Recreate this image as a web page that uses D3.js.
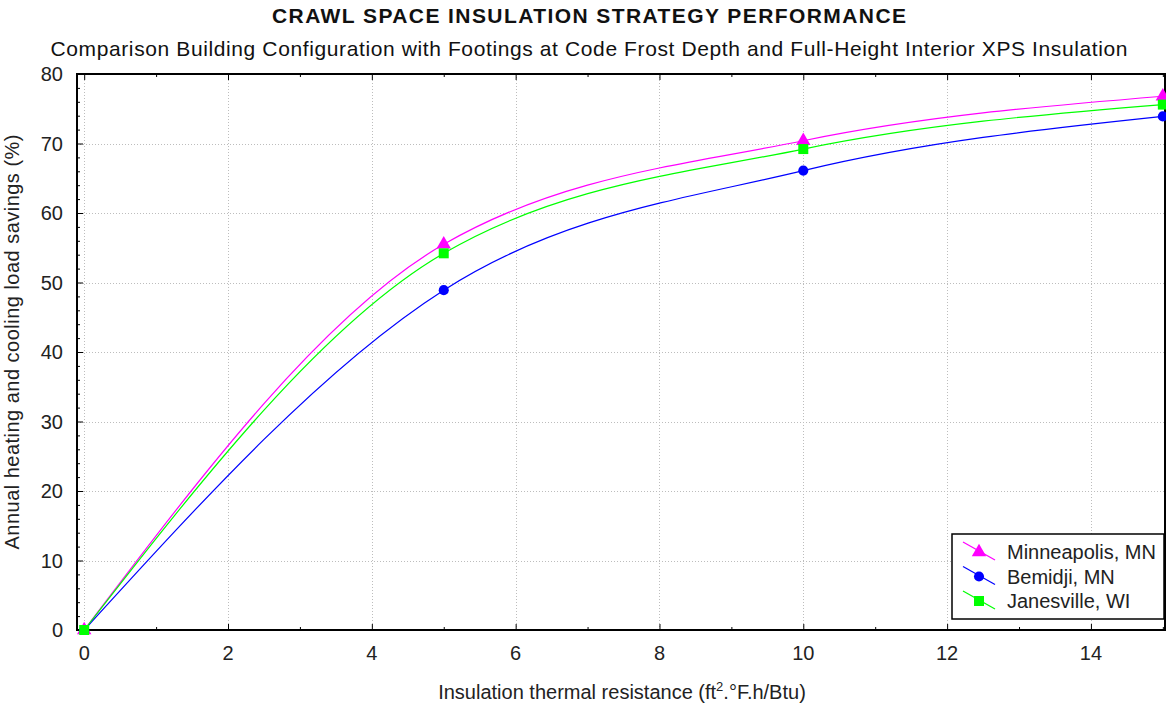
<!DOCTYPE html>
<html>
<head>
<meta charset="utf-8">
<script src="https://cdn.jsdelivr.net/npm/d3@7"></script>
<style>
  body { margin: 0; background: #fff; }
  svg { display: block; font-family: "Liberation Sans", Arial, sans-serif; }
</style>
</head>
<body>
<svg id="chart" width="1166" height="707"></svg>
<script>
// data
var resistance = [0, 5, 10, 15];
var minneapolis = [0, 55.5, 70.4, 76.8];
var bemidji = [0, 48.9, 66.1, 73.9];
var janesville = [0, 54.2, 69.2, 75.6];
var seriesNames = ['Minneapolis, MN', 'Bemidji, MN', 'Janesville, WI'];
var xTicks = [0, 2, 4, 6, 8, 10, 12, 14];
var yTicks = [0, 10, 20, 30, 40, 50, 60, 70, 80];

var title = 'CRAWL SPACE INSULATION STRATEGY PERFORMANCE';
var subtitle = 'Comparison Building Configuration with Footings at Code Frost Depth and Full-Height Interior XPS Insulation';

var series = [
  {name: seriesNames[0], values: minneapolis, color: '#ff00ff', marker: d3.symbolTriangle, size: 90},
  {name: seriesNames[1], values: bemidji, color: '#0000ff', marker: d3.symbolCircle, size: 80},
  {name: seriesNames[2], values: janesville, color: '#00ff00', marker: d3.symbolSquare, size: 100}
];

var svg = d3.select('#chart');
var plotL = 77, plotR = 1165, plotT = 74, plotB = 630;

var x = d3.scaleLinear().domain([-0.1, 15.03]).range([plotL, plotR]);
var y = d3.scaleLinear().domain([0, 80]).range([plotB, plotT]);

// titles
svg.append('text').attr('x', 589).attr('y', 23).attr('text-anchor', 'middle')
  .attr('font-size', 21).attr('font-weight', 'bold').attr('fill', '#111')
  .attr('textLength', 634).text(title);
svg.append('text').attr('x', 589).attr('y', 56).attr('text-anchor', 'middle')
  .attr('font-size', 21).attr('fill', '#111')
  .attr('textLength', 1077).text(subtitle);

// grid
var grid = svg.append('g').attr('stroke', '#bdbdbd').attr('stroke-width', 1).attr('stroke-dasharray', '1,2');
grid.selectAll('line.v').data(xTicks).enter().append('line')
  .attr('x1', function(d) { return Math.round(x(d)) + 0.5; })
  .attr('x2', function(d) { return Math.round(x(d)) + 0.5; })
  .attr('y1', plotT).attr('y2', plotB);
grid.selectAll('line.h').data(yTicks.slice(1, -1)).enter().append('line')
  .attr('y1', function(d) { return Math.round(y(d)) + 0.5; })
  .attr('y2', function(d) { return Math.round(y(d)) + 0.5; })
  .attr('x1', plotL).attr('x2', plotR);

// axes (ticks inward, minor ticks in between)
var xMinor = d3.range(0, 16, 1);
var yMinor = d3.range(0, 81, 2);
function tickLen(d, majors) { return majors.indexOf(d) >= 0 ? 6 : 3; }

var axBottom = d3.axisBottom(x).tickValues(xMinor).tickSizeInner(0).tickSizeOuter(0).tickFormat('');
var axTop = d3.axisTop(x).tickValues(xMinor).tickSizeInner(0).tickSizeOuter(0).tickFormat('');
var axLeft = d3.axisLeft(y).tickValues(yMinor).tickSizeInner(0).tickSizeOuter(0).tickFormat('');

var gb = svg.append('g').attr('transform', 'translate(0,' + plotB + ')').call(axBottom);
gb.selectAll('.tick line').attr('y2', function(d) { return -tickLen(d, xTicks); }).attr('stroke', '#000');
var gt = svg.append('g').attr('transform', 'translate(0,' + plotT + ')').call(axTop);
gt.selectAll('.tick line').attr('y2', function(d) { return tickLen(d, xTicks); }).attr('stroke', '#000');
var gl = svg.append('g').attr('transform', 'translate(' + plotL + ',0)').call(axLeft);
gl.selectAll('.tick line').attr('x2', function(d) { return tickLen(d, yTicks); }).attr('stroke', '#000');
svg.selectAll('.domain').remove();

// tick labels
svg.append('g').selectAll('text').data(xTicks).enter().append('text')
  .attr('x', function(d) { return x(d); }).attr('y', plotB + 30)
  .attr('text-anchor', 'middle').attr('font-size', 20).attr('fill', '#222').text(function(d) { return d; });
svg.append('g').selectAll('text').data(yTicks).enter().append('text')
  .attr('x', plotL - 14).attr('y', function(d) { return y(d) + 7; })
  .attr('text-anchor', 'end').attr('font-size', 20).attr('fill', '#222').text(function(d) { return d; });

// frame
svg.append('rect').attr('x', plotL).attr('y', plotT).attr('width', plotR - plotL).attr('height', plotB - plotT)
  .attr('fill', 'none').attr('stroke', '#000').attr('stroke-width', 2);

// axis titles
var xl = svg.append('text').attr('x', 622).attr('y', 699).attr('text-anchor', 'middle')
  .attr('font-size', 20).attr('fill', '#222');
xl.append('tspan').text('Insulation thermal resistance (ft');
xl.append('tspan').attr('font-size', 13).attr('dy', -8).text('2');
xl.append('tspan').attr('dy', 8).text('.\u00b0F.h/Btu)');
svg.append('text').attr('transform', 'translate(19,342) rotate(-90)').attr('text-anchor', 'middle')
  .attr('font-size', 20).attr('fill', '#222').attr('textLength', 415)
  .text('Annual heating and cooling load savings (%)');

// lines and markers
var line = d3.line().curve(d3.curveMonotoneX)
  .x(function(d, i) { return x(resistance[i]); })
  .y(function(d) { return y(d); });

series.forEach(function(s) {
  svg.append('path').attr('d', line(s.values)).attr('fill', 'none')
    .attr('stroke', s.color).attr('stroke-width', 1.2);
});
series.forEach(function(s) {
  svg.append('g').selectAll('path').data(s.values).enter().append('path')
    .attr('d', d3.symbol().type(s.marker).size(s.size))
    .attr('transform', function(d, i) { return 'translate(' + x(resistance[i]) + ',' + y(d) + ')'; })
    .attr('fill', s.color);
});

// legend
var lg = svg.append('g').attr('transform', 'translate(952,534)');
lg.append('rect').attr('width', 212).attr('height', 85).attr('fill', '#fff')
  .attr('stroke', '#000').attr('stroke-width', 1.5);
var rows = lg.selectAll('g.row').data(series).enter().append('g')
  .attr('transform', function(d, i) { return 'translate(0,' + (18 + i * 24.5) + ')'; });
rows.append('line').attr('x1', 11).attr('y1', -10).attr('x2', 43).attr('y2', 8)
  .attr('stroke', function(d) { return d.color; }).attr('stroke-width', 1.2);
rows.append('path').attr('d', function(d) { return d3.symbol().type(d.marker).size(d.size)(); })
  .attr('transform', 'translate(27,0)').attr('fill', function(d) { return d.color; });
rows.append('text').attr('x', 55).attr('y', 7).attr('font-size', 20).attr('fill', '#222')
  .text(function(d) { return d.name; });
</script>
</body>
</html>
